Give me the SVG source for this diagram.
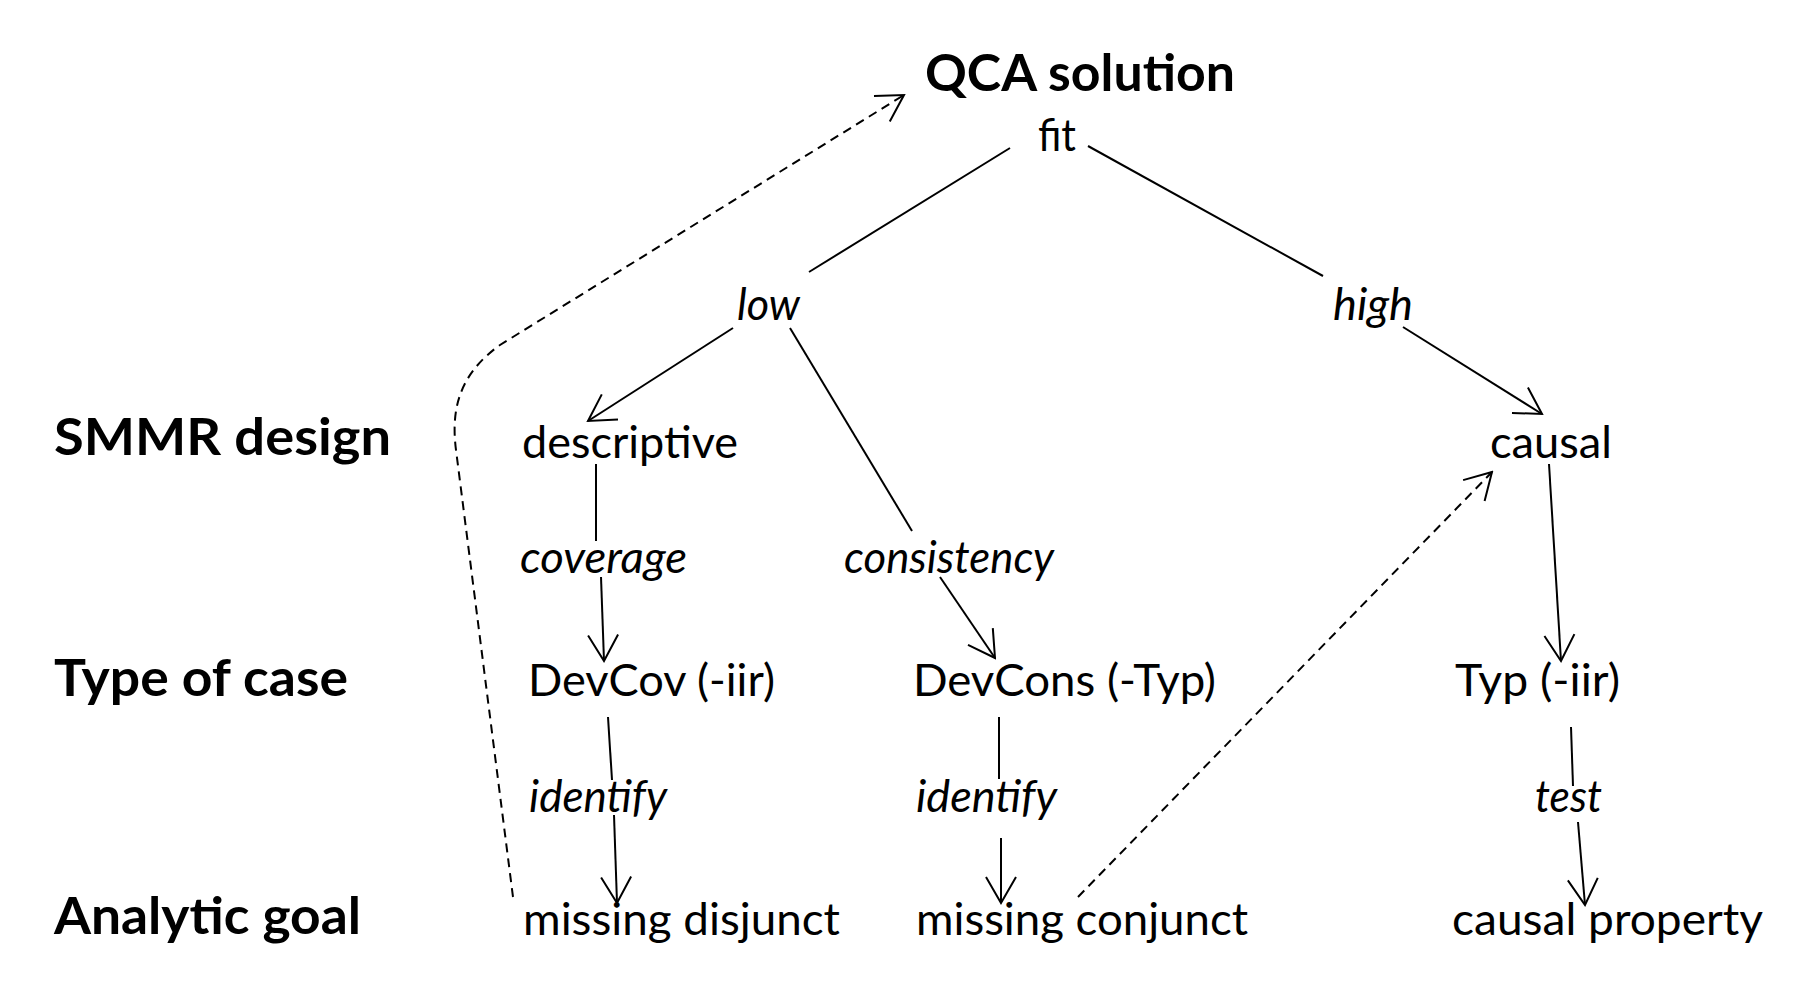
<svg xmlns="http://www.w3.org/2000/svg" width="1819" height="993" viewBox="0 0 1819 993">
<style>
text{font-family:Lato,"Open Sans","Liberation Sans",sans-serif;fill:#000}
.h{font-weight:bold;font-size:52px}
.n{font-size:45px}
.e{font-size:45px;font-style:italic}
.c{fill:none;stroke:#000;stroke-width:2}
.d{stroke-dasharray:9 6}
</style>
<defs>
<marker id="ah" markerUnits="userSpaceOnUse" viewBox="-30 -18 32 36" refX="0" refY="0" markerWidth="32" markerHeight="36" orient="auto">
<path d="M-26,-15 L0,0 L-26,15" fill="none" stroke="#000" stroke-width="2"/>
</marker>
</defs>
<rect width="1819" height="993" fill="#fff"/>
<g id="connectors">
<line class="c" x1="1010" y1="148" x2="809" y2="272"/>
<line class="c" x1="1088" y1="146" x2="1323" y2="276"/>
<line class="c" x1="733" y1="328" x2="588" y2="421" marker-end="url(#ah)"/>
<line class="c" x1="790" y1="328" x2="912" y2="531"/>
<line class="c" x1="1403" y1="327" x2="1542" y2="414" marker-end="url(#ah)"/>
<line class="c" x1="596" y1="464" x2="596" y2="541"/>
<line class="c" x1="601" y1="577" x2="604" y2="661" marker-end="url(#ah)"/>
<line class="c" x1="940" y1="577" x2="995" y2="658" marker-end="url(#ah)"/>
<line class="c" x1="1549" y1="464" x2="1561" y2="661" marker-end="url(#ah)"/>
<line class="c" x1="608" y1="717" x2="612" y2="780"/>
<line class="c" x1="614" y1="815" x2="617" y2="903" marker-end="url(#ah)"/>
<line class="c" x1="999" y1="717" x2="999" y2="779"/>
<line class="c" x1="1001" y1="838" x2="1001" y2="903" marker-end="url(#ah)"/>
<line class="c" x1="1571" y1="727" x2="1573" y2="786"/>
<line class="c" x1="1578" y1="822" x2="1585" y2="905" marker-end="url(#ah)"/>
<path class="c d" d="M513,897 L456,450 C451,411 458,375 500,345 L904,95" marker-end="url(#ah)"/>
<path class="c d" d="M1078,897 L1492,472" marker-end="url(#ah)"/>
</g>
<g id="label-smmr"><text class="h" x="54" y="455" textLength="337" lengthAdjust="spacingAndGlyphs">SMMR design</text></g>
<g id="label-type"><text class="h" x="54" y="696" textLength="294" lengthAdjust="spacingAndGlyphs">Type of case</text></g>
<g id="label-goal"><text class="h" x="54" y="934" textLength="307" lengthAdjust="spacingAndGlyphs">Analytic goal</text></g>
<g id="qca"><text class="h" x="925" y="91" textLength="310" lengthAdjust="spacingAndGlyphs">QCA solution</text></g>
<g id="fit"><text class="n" x="1038" y="151" textLength="38" lengthAdjust="spacingAndGlyphs">fit</text></g>
<g id="low"><text class="e" x="737" y="320" textLength="63" lengthAdjust="spacingAndGlyphs">low</text></g>
<g id="high"><text class="e" x="1333" y="320" textLength="80" lengthAdjust="spacingAndGlyphs">high</text></g>
<g id="descriptive"><text class="n" x="522" y="458" textLength="216" lengthAdjust="spacingAndGlyphs">descriptive</text></g>
<g id="causal"><text class="n" x="1490" y="458" textLength="122" lengthAdjust="spacingAndGlyphs">causal</text></g>
<g id="coverage"><text class="e" x="520" y="573" textLength="167" lengthAdjust="spacingAndGlyphs">coverage</text></g>
<g id="consistency"><text class="e" x="844" y="573" textLength="210" lengthAdjust="spacingAndGlyphs">consistency</text></g>
<g id="devcov"><text class="n" x="528" y="696" textLength="247" lengthAdjust="spacingAndGlyphs">DevCov (-iir)</text></g>
<g id="devcons"><text class="n" x="913" y="696" textLength="303" lengthAdjust="spacingAndGlyphs">DevCons (-Typ)</text></g>
<g id="typ"><text class="n" x="1455" y="696" textLength="165" lengthAdjust="spacingAndGlyphs">Typ (-iir)</text></g>
<g id="identify1"><text class="e" x="529" y="812" textLength="138" lengthAdjust="spacingAndGlyphs">identify</text></g>
<g id="identify2"><text class="e" x="916" y="812" textLength="141" lengthAdjust="spacingAndGlyphs">identify</text></g>
<g id="test"><text class="e" x="1535" y="812" textLength="67" lengthAdjust="spacingAndGlyphs">test</text></g>
<g id="missing-disjunct"><text class="n" x="523" y="935" textLength="317" lengthAdjust="spacingAndGlyphs">missing disjunct</text></g>
<g id="missing-conjunct"><text class="n" x="916" y="935" textLength="332" lengthAdjust="spacingAndGlyphs">missing conjunct</text></g>
<g id="causal-property"><text class="n" x="1452" y="935" textLength="311" lengthAdjust="spacingAndGlyphs">causal property</text></g>
</svg>
